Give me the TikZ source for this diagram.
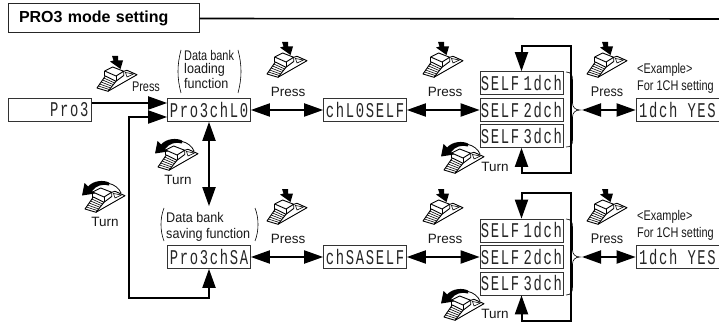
\documentclass[tikz,border=0pt]{standalone}
\usepackage{fontspec}
\usetikzlibrary{arrows.meta}
\setmainfont{Liberation Sans}
\newfontfamily\lcdfont[FakeStretch=0.66,LetterSpace=8,WordSpace=0.15]{Liberation Mono}
\newfontfamily\narrowA[FakeStretch=0.78]{Liberation Sans}
\newfontfamily\narrowB[FakeStretch=0.9]{Liberation Sans}
\newcommand{\lcdsize}{\fontsize{21}{21}\selectfont\lcdfont}
\newcommand{\labsize}{\fontsize{13.5}{14}\selectfont}
\newcommand{\narsize}{\fontsize{14}{15}\selectfont}
\newcommand{\lcdline}[1]{\makebox[83pt][c]{#1}}
\newcommand{\pedalbody}{%
  \fill[white] (0,31) -- (8,19) -- (7.7,14) -- (15.7,10) -- (26.7,14) -- (30,13.3) -- (40,17.7) -- (11,34.3) -- cycle;
  \draw[iconline] (0,31) -- (8.3,19) -- (19,24.3) -- (11,34.3) -- cycle;
  \foreach \t in {0.17,0.33,0.5,0.67,0.83}
    \draw[iconthin] ({8.3-8.3*\t},{19+12*\t}) -- ({19-8*\t},{24.3+10*\t});
  \draw[iconline] (7.7,14) -- (15.7,10) -- (26.7,14.3) -- (19,19) -- cycle;
  \draw[iconline] (7.7,14) -- (7.7,19.5);
  \draw[iconline] (19,19) -- (19,24.3);
  \draw[iconline] (26.7,14.3) -- (26.7,18.5) -- (19,24.3);
  \draw[iconline] (26.7,14.3) -- (30,13.3) -- (40,17.7) -- (11,34.3);
  \draw[iconthin] (28.5,15.5) -- (36.5,17) -- (30,20) -- cycle;
}
\tikzset{
  x=1pt,y=-1pt,
  lcd/.style={draw=black!80,line width=0.7pt,fill=white,inner xsep=0pt,inner ysep=0pt,
    text width=83pt,minimum height=23pt,align=center,font=\lcdsize,text=black!85},
  lcdright/.style={lcd,align=right},
  thick line/.style={line width=2pt,draw=black,line join=miter},
  arr/.style={thick line,-{Triangle[length=19pt,width=13pt]}},
  dbl/.style={thick line,{Triangle[length=19pt,width=13pt]}-{Triangle[length=19pt,width=13pt]}},
  thinl/.style={line width=0.6pt,draw=black},
  lab/.style={inner sep=0pt,font=\labsize,text=black!90},
  nar/.style={inner sep=0pt,anchor=west,text=black!90},
  iconline/.style={line width=0.9pt,draw=black,line join=round},
  iconthin/.style={line width=0.6pt,draw=black},
  pressicon/.pic={
    \pedalbody
    \fill[black] (15,-1) -- (21,-1) -- (21,3.5) -- (26,3.5) -- (23.5,12) -- (13,4.5) -- (16.5,3.5) -- cycle;
  },
  turnicon/.pic={
    \begin{scope}[shift={(3,-4)}]\pedalbody\end{scope}
    \draw[line width=0.8pt] (27,1.5) .. controls (32,2.5) and (37,6) .. (39,11);
    \fill[black] (27,3.5) .. controls (21,1.5) and (14,3.5) .. (10,9) -- (13,11.5) -- (0,13.5) -- (2.5,1) -- (6,4.5)
       .. controls (12,-2) and (22,-2) .. (27,0.5) -- cycle;
  },
}
\begin{document}
\begin{tikzpicture}
\useasboundingbox (0,0) rectangle (719,331);
\fill[white] (0,0) rectangle (719,331);
% title
\node[draw=black!85,line width=1pt,fill=white,inner xsep=11pt,inner ysep=0pt,text width=169pt,align=left,
      minimum height=29pt,font=\fontsize{16}{16}\selectfont\bfseries] (title) at (103.5,18.5) {\raisebox{-2pt}{PRO3 mode setting}};
\coordinate (titleend) at (719,19);
\draw[line width=1.6pt] (title.east) -- (titleend);
% displays
\node[lcdright] (pro) at (50,109.5) {Pro3\kern3pt};
\node[lcd] (load) at (209,110) {Pro3chL0};
\node[lcd] (save) at (209,257) {Pro3chSA};
\node[lcd] (chl) at (365,110) {chL0SELF};
\node[lcd] (chs) at (365,257) {chSASELF};
\node[lcd] (a1) at (521.5,83) {\lcdline{SELF\kern-2.5pt{} 1dch}};
\node[lcd] (a2) at (521.5,110) {\lcdline{SELF\kern-2.5pt{} 2dch}};
\node[lcd] (a3) at (521.5,136) {\lcdline{SELF\kern-2.5pt{} 3dch}};
\node[lcd] (b1) at (521.5,230.5) {\lcdline{SELF\kern-2.5pt{} 1dch}};
\node[lcd] (b2) at (521.5,257) {\lcdline{SELF\kern-2.5pt{} 2dch}};
\node[lcd] (b3) at (521.5,283.5) {\lcdline{SELF\kern-2.5pt{} 3dch}};
\node[lcd] (ay) at (677.5,110) {\lcdline{1dch\kern 10pt YES}};
\node[lcd] (by) at (677.5,257) {\lcdline{1dch\kern 10pt YES}};
% connector waypoints
\coordinate (lt) at (129,117);
\coordinate (lb) at (129,298);
\coordinate (atr) at (571,46);
\coordinate (abr) at (571,173);
\coordinate (btr) at (571,193);
\coordinate (bbr) at (571,321);
\coordinate (abrace) at (582,110);
\coordinate (bbrace) at (582,257);
% connectors
\draw[arr] ([yshift=6.5pt]pro.east) -- ([yshift=7pt]load.west);
\draw[arr] (lb) -- (lt) -- ([yshift=-7pt]load.west);
\draw[arr] (lt) -- (lb) -| (save.south);
\draw[dbl] (load.south) -- ([yshift=39pt]save.north);
\draw[dbl] (load.east) -- (chl.west);
\draw[dbl] (chl.east) -- (a2.west);
\draw[dbl] (save.east) -- (chs.west);
\draw[dbl] (chs.east) -- (b2.west);
\draw[dbl] (a1.north) |- (atr) -- (abr) -| (a3.south);
\draw[dbl] (b1.north) |- (btr) -- (bbr) -| (b3.south);
\draw[dbl] (abrace) -- (ay.west);
\draw[dbl] (bbrace) -- (by.west);
% braces
\draw[thinl] (566,72) .. controls (571,72) and (572.5,75) .. (572.5,80) -- (572.5,103) .. controls (572.5,107) and (575,110) .. (580,110)
  .. controls (575,110) and (572.5,113) .. (572.5,117) -- (572.5,140) .. controls (572.5,145) and (571,147) .. (566,147);
\draw[thinl] (566,219) .. controls (571,219) and (572.5,222) .. (572.5,227) -- (572.5,250) .. controls (572.5,254) and (575,257) .. (580,257)
  .. controls (575,257) and (572.5,260) .. (572.5,264) -- (572.5,287) .. controls (572.5,292) and (571,295) .. (566,295);
% parentheses
\draw[thinl] (181,50) .. controls (177,65) and (177,78) .. (181,93);
\draw[thinl] (238,50) .. controls (242,65) and (242,78) .. (238,93);
\draw[thinl] (164,208) .. controls (160,218) and (160,231) .. (164,241);
\draw[thinl] (255,208) .. controls (259,218) and (259,231) .. (255,241);
% icons
\pic at (97,57) {pressicon};
\pic at (267,43) {pressicon};
\pic at (423,43) {pressicon};
\pic at (587,43) {pressicon};
\pic at (267,190) {pressicon};
\pic at (423,190) {pressicon};
\pic at (587,190) {pressicon};
\pic at (155,140) {turnicon};
\pic at (82,182) {turnicon};
\pic at (441,143) {turnicon};
\pic at (441,290) {turnicon};
% labels
\node[lab,font=\narsize\narrowA] (p0) at (146,87) {Press};
\node[lab] (p1) at (288,92) {Press};
\node[lab] (p2) at (445,92) {Press};
\node[lab,font=\narsize\narrowB] (p3) at (607,92) {Press};
\node[lab] (p4) at (288,239) {Press};
\node[lab] (p5) at (445,239) {Press};
\node[lab,font=\narsize\narrowB] (p6) at (607,239) {Press};
\node[lab] (t0) at (178,180) {Turn};
\node[lab] (t1) at (105,222) {Turn};
\node[lab] (t2) at (495,167) {Turn};
\node[lab] (t3) at (495,314) {Turn};
\node[nar,font=\narsize\narrowA] (d1) at (184,55) {Data bank};
\node[nar,font=\narsize\narrowB] (d2) at (184,70) {loading};
\node[nar,font=\narsize\narrowB] (d3) at (184,83.5) {function};
\node[nar,font=\narsize\narrowB] (s1) at (166,217) {Data bank};
\node[nar,font=\narsize\narrowB] (s2) at (166,235) {saving function};
\node[nar,font=\narsize\narrowA] (e1) at (637,70) {<Example>};
\node[nar,font=\narsize\narrowA] (e2) at (637,87) {For 1CH setting};
\node[nar,font=\narsize\narrowA] (e3) at (637,217) {<Example>};
\node[nar,font=\narsize\narrowA] (e4) at (637,234) {For 1CH setting};
\end{tikzpicture}
\end{document}
